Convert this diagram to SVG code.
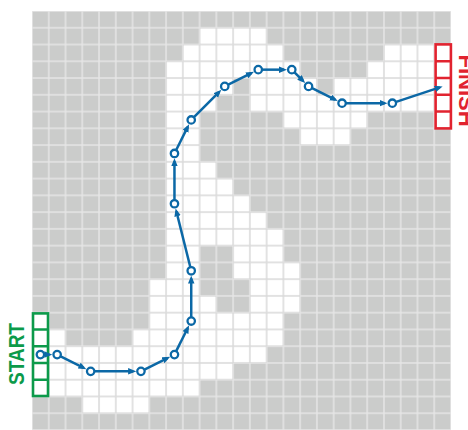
<svg xmlns="http://www.w3.org/2000/svg" width="468" height="430" viewBox="0 0 468 430">
<defs>
<pattern id="pg" x="32" y="11" width="16.76" height="16.76" patternUnits="userSpaceOnUse"><rect width="16.76" height="16.76" fill="#e6e6e6"/><rect x="0.75" y="0.75" width="15.26" height="15.26" fill="#cbcccb"/></pattern>
<pattern id="pw" x="32" y="11" width="16.76" height="16.76" patternUnits="userSpaceOnUse"><rect width="16.76" height="16.76" fill="#d9d9d9"/><rect x="0.75" y="0.75" width="15.26" height="15.26" fill="#ffffff"/></pattern>
<marker id="ah" markerUnits="userSpaceOnUse" markerWidth="8" markerHeight="7" refX="5" refY="3.25" orient="auto"><path d="M0,0 L8,3.25 L0,6.5 z" fill="#0b68a6"/></marker>
</defs>
<style>
.w{fill:url(#pw)}
.c line{stroke:#0b68a6;stroke-width:2.5;marker-end:url(#ah)}
.n circle{fill:#fff;stroke:#0b68a6;stroke-width:2.3}
.lbl{font-family:"Liberation Sans",Arial,sans-serif;font-weight:bold;font-size:22px}
</style>
<g id="grid">
<rect x="32" y="11" width="419" height="419" fill="url(#pg)"/>
<rect class="w" x="199.6" y="27.76" width="67.04" height="16.76"/>
<rect class="w" x="182.84" y="44.52" width="100.56" height="16.76"/>
<rect class="w" x="383.96" y="44.52" width="50.28" height="16.76"/>
<rect class="w" x="166.08" y="61.28" width="134.08" height="16.76"/>
<rect class="w" x="367.2" y="61.28" width="67.04" height="16.76"/>
<rect class="w" x="166.08" y="78.04" width="67.04" height="16.76"/>
<rect class="w" x="249.88" y="78.04" width="67.04" height="16.76"/>
<rect class="w" x="333.68" y="78.04" width="100.56" height="16.76"/>
<rect class="w" x="166.08" y="94.8" width="50.28" height="16.76"/>
<rect class="w" x="249.88" y="94.8" width="184.36" height="16.76"/>
<rect class="w" x="166.08" y="111.56" width="33.52" height="50.28"/>
<rect class="w" x="283.4" y="111.56" width="83.8" height="16.76"/>
<rect class="w" x="300.16" y="128.32" width="50.28" height="16.76"/>
<rect class="w" x="166.08" y="161.84" width="50.28" height="16.76"/>
<rect class="w" x="166.08" y="178.6" width="67.04" height="16.76"/>
<rect class="w" x="166.08" y="195.36" width="83.8" height="16.76"/>
<rect class="w" x="166.08" y="212.12" width="100.56" height="16.76"/>
<rect class="w" x="166.08" y="228.88" width="117.32" height="16.76"/>
<rect class="w" x="166.08" y="245.64" width="33.52" height="33.52"/>
<rect class="w" x="233.12" y="245.64" width="50.28" height="16.76"/>
<rect class="w" x="233.12" y="262.4" width="67.04" height="16.76"/>
<rect class="w" x="249.88" y="279.16" width="50.28" height="33.52"/>
<rect class="w" x="149.32" y="279.16" width="50.28" height="16.76"/>
<rect class="w" x="149.32" y="295.92" width="67.04" height="16.76"/>
<rect class="w" x="149.32" y="312.68" width="134.08" height="16.76"/>
<rect class="w" x="48.76" y="329.44" width="16.76" height="16.76"/>
<rect class="w" x="132.56" y="329.44" width="150.84" height="16.76"/>
<rect class="w" x="48.76" y="346.2" width="217.88" height="16.76"/>
<rect class="w" x="48.76" y="362.96" width="184.36" height="16.76"/>
<rect class="w" x="48.76" y="379.72" width="150.84" height="16.76"/>
<rect class="w" x="82.28" y="396.48" width="67.04" height="16.76"/>
</g>
<g id="start">
<rect x="32" y="312.68" width="16.76" height="83.8" fill="#fff"/>
<g stroke="#0c9a4a" stroke-width="2.6" fill="none">
<rect x="33" y="313.4" width="15" height="82.6"/>
<path d="M33 329.44H48M33 346.2H48M33 362.96H48M33 379.72H48"/>
</g>
<text class="lbl" fill="#0c9a4a" transform="translate(24,354) rotate(-90)" text-anchor="middle" textLength="62" lengthAdjust="spacingAndGlyphs">START</text>
</g>
<g id="finish">
<rect x="434.24" y="44.52" width="16.76" height="83.8" fill="#fff"/>
<g stroke="#e1232f" stroke-width="2.6" fill="none">
<rect x="435.6" y="44.4" width="15.3" height="84"/>
<path d="M435.6 61.28H450.9M435.6 78.04H450.9M435.6 94.8H450.9M435.6 111.56H450.9"/>
</g>
<text class="lbl" fill="#e1232f" transform="translate(459,90.5) rotate(90)" text-anchor="middle">FINISH</text>
</g>
<g id="connectors" class="c">
<line x1="40.38" y1="354.58" x2="49.34" y2="354.58"/>
<line x1="57.14" y1="354.58" x2="83.68" y2="367.85"/>
<line x1="90.66" y1="371.34" x2="133.14" y2="371.34"/>
<line x1="140.94" y1="371.34" x2="167.48" y2="358.07"/>
<line x1="174.46" y1="354.58" x2="187.73" y2="328.04"/>
<line x1="191.22" y1="321.06" x2="191.22" y2="278.58"/>
<line x1="191.22" y1="270.78" x2="176.35" y2="211.31"/>
<line x1="174.46" y1="203.74" x2="174.46" y2="161.26"/>
<line x1="174.46" y1="153.46" x2="187.73" y2="126.92"/>
<line x1="191.22" y1="119.94" x2="219.23" y2="91.94"/>
<line x1="224.74" y1="86.42" x2="251.28" y2="73.15"/>
<line x1="258.26" y1="69.66" x2="283.98" y2="69.66"/>
<line x1="291.78" y1="69.66" x2="303.03" y2="80.91"/>
<line x1="308.54" y1="86.42" x2="335.08" y2="99.69"/>
<line x1="342.06" y1="103.18" x2="384.54" y2="103.18"/>
<line x1="392.34" y1="103.18" x2="439.77" y2="87.37"/>
</g>
<g class="n">
<g id="p0"><circle cx="40.38" cy="354.58" r="3.7"/></g>
<g id="p1"><circle cx="57.14" cy="354.58" r="3.7"/></g>
<g id="p2"><circle cx="90.66" cy="371.34" r="3.7"/></g>
<g id="p3"><circle cx="140.94" cy="371.34" r="3.7"/></g>
<g id="p4"><circle cx="174.46" cy="354.58" r="3.7"/></g>
<g id="p5"><circle cx="191.22" cy="321.06" r="3.7"/></g>
<g id="p6"><circle cx="191.22" cy="270.78" r="3.7"/></g>
<g id="p7"><circle cx="174.46" cy="203.74" r="3.7"/></g>
<g id="p8"><circle cx="174.46" cy="153.46" r="3.7"/></g>
<g id="p9"><circle cx="191.22" cy="119.94" r="3.7"/></g>
<g id="p10"><circle cx="224.74" cy="86.42" r="3.7"/></g>
<g id="p11"><circle cx="258.26" cy="69.66" r="3.7"/></g>
<g id="p12"><circle cx="291.78" cy="69.66" r="3.7"/></g>
<g id="p13"><circle cx="308.54" cy="86.42" r="3.7"/></g>
<g id="p14"><circle cx="342.06" cy="103.18" r="3.7"/></g>
<g id="p15"><circle cx="392.34" cy="103.18" r="3.7"/></g>
</g>
</svg>
